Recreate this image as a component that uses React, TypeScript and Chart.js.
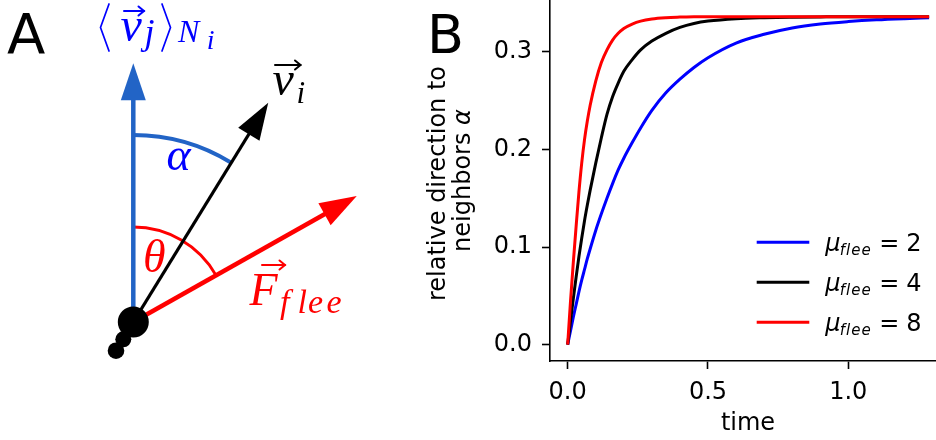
import React, { useEffect, useRef } from 'react';
import { Chart, registerables } from 'chart.js';

Chart.register(...registerables);

// ---------- Panel B data ----------
const TIME = [0, 0.01, 0.02, 0.03, 0.04, 0.05, 0.06, 0.07, 0.08, 0.1, 0.12, 0.14, 0.16, 0.18, 0.2, 0.23, 0.26, 0.3, 0.35, 0.4, 0.45, 0.5, 0.6, 0.7, 0.8, 0.9, 1.0, 1.1, 1.2, 1.288];
const ALPHA_MU2 = [0, 0.014, 0.028, 0.041, 0.054, 0.066, 0.077, 0.088, 0.098, 0.117, 0.134, 0.15, 0.165, 0.179, 0.191, 0.207, 0.222, 0.24, 0.258, 0.272, 0.284, 0.294, 0.309, 0.318, 0.3245, 0.3285, 0.331, 0.3328, 0.334, 0.3348];
const ALPHA_MU4 = [0, 0.024, 0.047, 0.069, 0.09, 0.109, 0.127, 0.143, 0.158, 0.186, 0.212, 0.236, 0.254, 0.268, 0.28, 0.292, 0.302, 0.311, 0.319, 0.325, 0.329, 0.3315, 0.334, 0.335, 0.3355, 0.3358, 0.336, 0.336, 0.336, 0.336];
const ALPHA_MU8 = [0, 0.044, 0.084, 0.121, 0.156, 0.186, 0.21, 0.229, 0.245, 0.27, 0.289, 0.302, 0.312, 0.319, 0.324, 0.3285, 0.3315, 0.3337, 0.335, 0.3356, 0.336, 0.336, 0.336, 0.336, 0.336, 0.336, 0.336, 0.336, 0.336, 0.336];
const MU_VALUES = ['2', '4', '8'];
const LINE_COLORS = ['#0000ff', '#000000', '#ff0000'];
const X_TICKS = [0, 0.5, 1.0];
const Y_TICKS = [0, 0.1, 0.2, 0.3];
const X_RANGE = [-0.063, 1.3125];
const Y_RANGE = [-0.0168, 0.3531];

// ---------- Panel A diagram data ----------
const VEC_ANGLES = [0, 31.6, 60.6]; // degrees clockwise from vertical: <v_j>, v_i, F_flee
const VEC_LENGTHS = [258.7, 257.5, 256.5];
const ARC_RADII = [187, 95]; // alpha, theta
const ARC_SPANS = [31.6, 60.6];
const DOT_X = [0, -10, -17.3];
const DOT_Y = [0, -17.3, -28.7];
const DOT_R = [15.5, 8, 8.3];

const D2R = Math.PI / 180;
const ARROW_BLUE = '#2264c6';
const TXT_BLUE = '#0000ff';
const RED = '#ff0000';
const VEC_COLORS = [ARROW_BLUE, '#000000', RED];
const VEC_WIDTHS = [4.5, 3.3, 4.5];
const HEAD_LEN = 37;
const HEAD_HALF = 12.5;
const SERIF = '"Liberation Serif", "DejaVu Serif", serif';
const SANS = '"DejaVu Sans", sans-serif';

const vecPoint = (i: number, len: number) => ({
  x: len * Math.sin(VEC_ANGLES[i] * D2R),
  y: len * Math.cos(VEC_ANGLES[i] * D2R),
});

type Run = { t: string; x: number; y: number; size: number; color: string };
const MATH_RUNS: Run[] = [
  { t: 'v', x: -12.8, y: 281.5, size: 48, color: TXT_BLUE },
  { t: 'j', x: 11.2, y: 278, size: 36, color: TXT_BLUE },
  { t: 'N', x: 44.7, y: 280, size: 32, color: TXT_BLUE },
  { t: 'i', x: 73.5, y: 273, size: 28, color: TXT_BLUE },
  { t: 'α', x: 33.2, y: 152, size: 46, color: TXT_BLUE },
  { t: 'θ', x: 9.7, y: 50.3, size: 46, color: RED },
  { t: 'v', x: 139.2, y: 227, size: 48, color: '#000000' },
  { t: 'i', x: 163.2, y: 219.3, size: 31, color: '#000000' },
  { t: 'F', x: 116.2, y: 17, size: 46, color: RED },
  { t: 'f', x: 146.7, y: 9, size: 34, color: RED },
  { t: 'l', x: 164.2, y: 9, size: 34, color: RED },
  { t: 'e', x: 174.7, y: 9, size: 34, color: RED },
  { t: 'e', x: 193.2, y: 9, size: 34, color: RED },
];
const ACCENTS = [
  { x1: -9.3, x2: 10.7, y: 311, color: TXT_BLUE },
  { x1: 141.7, x2: 167.2, y: 257, color: '#000000' },
  { x1: 128.7, x2: 151.7, y: 57, color: RED },
];
const BRACKETS = [
  [[-24.3, 318], [-32.8, 294.5], [-24.3, 271]],
  [[28.7, 318], [37.2, 294.5], [28.7, 271]],
];

const diagramPlugin = {
  id: 'diagram',
  beforeDatasetsDraw(chart: any) {
    const { ctx } = chart;
    const xs = chart.scales.x, ys = chart.scales.y;
    const ox = xs.getPixelForValue(0), oy = ys.getPixelForValue(0);
    const k = xs.getPixelForValue(1) - ox;
    const colors = [ARROW_BLUE, RED];
    const widths = [4, 3];
    ctx.save();
    ARC_RADII.forEach((r, i) => {
      ctx.beginPath();
      ctx.strokeStyle = colors[i];
      ctx.lineWidth = widths[i];
      ctx.arc(ox, oy, r * k, -Math.PI / 2, -Math.PI / 2 + ARC_SPANS[i] * D2R);
      ctx.stroke();
    });
    ctx.restore();
  },
  afterDatasetsDraw(chart: any) {
    const { ctx } = chart;
    const xs = chart.scales.x, ys = chart.scales.y;
    const P = (x: number, y: number) => [xs.getPixelForValue(x), ys.getPixelForValue(y)];
    const k = xs.getPixelForValue(1) - xs.getPixelForValue(0);
    ctx.save();
    // arrow heads
    VEC_ANGLES.forEach((a, i) => {
      const tip = vecPoint(i, VEC_LENGTHS[i]);
      const [tx, ty] = P(tip.x, tip.y);
      const ux = Math.sin(a * D2R), uy = -Math.cos(a * D2R);
      const nx = -uy, ny = ux;
      const bx = tx - HEAD_LEN * k * ux, by = ty - HEAD_LEN * k * uy;
      ctx.beginPath();
      ctx.moveTo(tx, ty);
      ctx.lineTo(bx + HEAD_HALF * k * nx, by + HEAD_HALF * k * ny);
      ctx.lineTo(bx - HEAD_HALF * k * nx, by - HEAD_HALF * k * ny);
      ctx.closePath();
      ctx.fillStyle = VEC_COLORS[i];
      ctx.fill();
    });
    // math text
    ctx.textBaseline = 'alphabetic';
    ctx.textAlign = 'left';
    MATH_RUNS.forEach((r) => {
      const [x, y] = P(r.x, r.y);
      ctx.font = `italic ${r.size}px ${SERIF}`;
      ctx.fillStyle = r.color;
      ctx.fillText(r.t, x, y);
    });
    // vector accents
    ACCENTS.forEach((a) => {
      const [x1, y] = P(a.x1, a.y);
      const [x2] = P(a.x2, a.y);
      ctx.strokeStyle = a.color;
      ctx.lineWidth = 2;
      ctx.lineCap = 'round';
      ctx.beginPath();
      ctx.moveTo(x1, y);
      ctx.lineTo(x2, y);
      ctx.stroke();
      ctx.beginPath();
      ctx.moveTo(x2 - 5.5, y - 4.5);
      ctx.lineTo(x2, y);
      ctx.lineTo(x2 - 5.5, y + 4.5);
      ctx.stroke();
    });
    // angle brackets
    ctx.strokeStyle = TXT_BLUE;
    ctx.lineWidth = 1.7;
    ctx.lineJoin = 'miter';
    BRACKETS.forEach((pts) => {
      ctx.beginPath();
      pts.forEach(([x, y], j) => {
        const [px, py] = P(x, y);
        if (j === 0) ctx.moveTo(px, py); else ctx.lineTo(px, py);
      });
      ctx.stroke();
    });
    // panel letter
    ctx.fillStyle = '#000';
    ctx.font = `56px ${SANS}`;
    ctx.fillText('A', 7, 53);
    ctx.restore();
  },
};

const panelBPlugin = {
  id: 'panelB',
  afterDraw(chart: any) {
    const { ctx, chartArea } = chart;
    ctx.save();
    ctx.fillStyle = '#000';
    ctx.textBaseline = 'alphabetic';
    // panel letter
    ctx.font = `54px ${SANS}`;
    ctx.textAlign = 'left';
    ctx.fillText('B', 7, 53);
    // x title
    ctx.font = `24px ${SANS}`;
    ctx.textAlign = 'center';
    ctx.fillText('time', 328, 430);
    // y title, two lines
    const cy = (chartArea.top + chartArea.bottom) / 2;
    ctx.save();
    ctx.translate(25, cy + 3);
    ctx.rotate(-Math.PI / 2);
    ctx.textAlign = 'center';
    ctx.fillText('relative direction to', 0, 0);
    ctx.restore();
    ctx.save();
    ctx.translate(50, cy);
    ctx.rotate(-Math.PI / 2);
    ctx.textAlign = 'left';
    const f1 = `24px ${SANS}`, f2 = `italic 24px ${SANS}`;
    ctx.font = f1;
    const w1 = ctx.measureText('neighbors ').width;
    ctx.font = f2;
    const w2 = ctx.measureText('α').width;
    const start = -(w1 + w2) / 2;
    ctx.font = f1;
    ctx.fillText('neighbors ', start, 0);
    ctx.font = f2;
    ctx.fillText('α', start + w1, 0);
    ctx.restore();
    // legend
    const lx1 = chartArea.right - 179.3, lx2 = chartArea.right - 126.7;
    MU_VALUES.forEach((mu, i) => {
      const y = 242.3 + 40 * i;
      ctx.strokeStyle = LINE_COLORS[i];
      ctx.lineWidth = 3;
      ctx.beginPath();
      ctx.moveTo(lx1, y);
      ctx.lineTo(lx2, y);
      ctx.stroke();
      ctx.fillStyle = '#000';
      ctx.textAlign = 'left';
      ctx.font = `italic 24px ${SANS}`;
      ctx.fillText('μ', lx2 + 16, y + 9);
      ctx.font = `italic 15px ${SANS}`;
      (ctx as any).letterSpacing = '1px';
      ctx.fillText('flee', lx2 + 30.5, y + 13);
      (ctx as any).letterSpacing = '0px';
      ctx.font = `24px ${SANS}`;
      ctx.fillText('=', lx2 + 70, y + 9);
      ctx.fillText(mu, lx2 + 97, y + 9);
    });
    ctx.restore();
  },
};

export default function App() {
  const aRef = useRef<HTMLCanvasElement>(null);
  const bRef = useRef<HTMLCanvasElement>(null);

  useEffect(() => {
    document.body.style.margin = '0';
    const shafts = VEC_ANGLES.map((_, i) => {
      const end = vecPoint(i, VEC_LENGTHS[i] - HEAD_LEN + 2);
      return {
        data: [{ x: 0, y: 0 }, end],
        showLine: true,
        borderColor: VEC_COLORS[i],
        borderWidth: VEC_WIDTHS[i],
        pointRadius: 0,
        borderCapStyle: 'butt',
        order: 3 - i,
      };
    });
    const dots = {
      data: DOT_X.map((x, i) => ({ x, y: DOT_Y[i] })),
      showLine: false,
      pointRadius: DOT_R,
      pointBackgroundColor: '#000',
      pointBorderWidth: 0,
      order: 0,
    };
    const chartA = new Chart(aRef.current as HTMLCanvasElement, {
      type: 'scatter',
      data: { datasets: [dots, ...shafts] as any },
      options: {
        responsive: false,
        animation: false,
        devicePixelRatio: 1,
        events: [],
        layout: { padding: 0, autoPadding: false },
        plugins: { legend: { display: false }, tooltip: { enabled: false } },
        scales: {
          x: { type: 'linear', display: false, min: -133.3, max: 286.7 },
          y: { type: 'linear', display: false, min: -118, max: 322 },
        },
      } as any,
      plugins: [diagramPlugin],
    });

    const series = [ALPHA_MU2, ALPHA_MU4, ALPHA_MU8];
    const datasets = series.map((vals, i) => ({
      label: 'mu_flee = ' + MU_VALUES[i],
      data: TIME.map((t, j) => ({ x: t, y: vals[j] })),
      showLine: true,
      borderColor: LINE_COLORS[i],
      borderWidth: 3,
      pointRadius: 0,
      cubicInterpolationMode: 'monotone',
      fill: false,
      order: 3 - i,
    }));
    const tickFont = { family: 'DejaVu Sans', size: 24 };
    const chartB = new Chart(bRef.current as HTMLCanvasElement, {
      type: 'scatter',
      data: { datasets: datasets as any },
      options: {
        responsive: false,
        animation: false,
        devicePixelRatio: 1,
        events: [],
        layout: { padding: 0, autoPadding: false },
        plugins: { legend: { display: false }, tooltip: { enabled: false }, title: { display: false } },
        scales: {
          x: {
            type: 'linear',
            min: X_RANGE[0],
            max: X_RANGE[1],
            afterBuildTicks: (s: any) => { s.ticks = X_TICKS.map((v) => ({ value: v })); },
            afterFit: (s: any) => { s.height = 79; s.paddingLeft = 0; s.paddingRight = 0; },
            ticks: { font: tickFont, color: '#000', padding: 9, maxRotation: 0, autoSkip: false, callback: (v: any) => Number(v).toFixed(1) },
            grid: { drawOnChartArea: false, drawTicks: true, tickLength: 8, tickColor: '#000', tickWidth: 1.6 },
            border: { display: true, color: '#000', width: 1.6 },
          },
          y: {
            type: 'linear',
            min: Y_RANGE[0],
            max: Y_RANGE[1],
            afterBuildTicks: (s: any) => { s.ticks = Y_TICKS.map((v) => ({ value: v })); },
            afterFit: (s: any) => { s.width = 130; s.paddingTop = 0; s.paddingBottom = 0; },
            ticks: { font: tickFont, color: '#000', padding: 10, autoSkip: false, callback: (v: any) => Number(v).toFixed(1) },
            grid: { drawOnChartArea: false, drawTicks: true, tickLength: 8, tickColor: '#000', tickWidth: 1.6 },
            border: { display: true, color: '#000', width: 1.6 },
          },
        },
      } as any,
      plugins: [panelBPlugin],
    });
    return () => {
      chartA.destroy();
      chartB.destroy();
    };
  }, []);

  return (
    <div style={{ position: 'relative', width: 936, height: 440, background: '#fff' }}>
      <canvas ref={aRef} width={420} height={440} style={{ position: 'absolute', left: 0, top: 0, width: 420, height: 440 }} />
      <canvas ref={bRef} width={516} height={440} style={{ position: 'absolute', left: 420, top: 0, width: 516, height: 440 }} />
    </div>
  );
}
